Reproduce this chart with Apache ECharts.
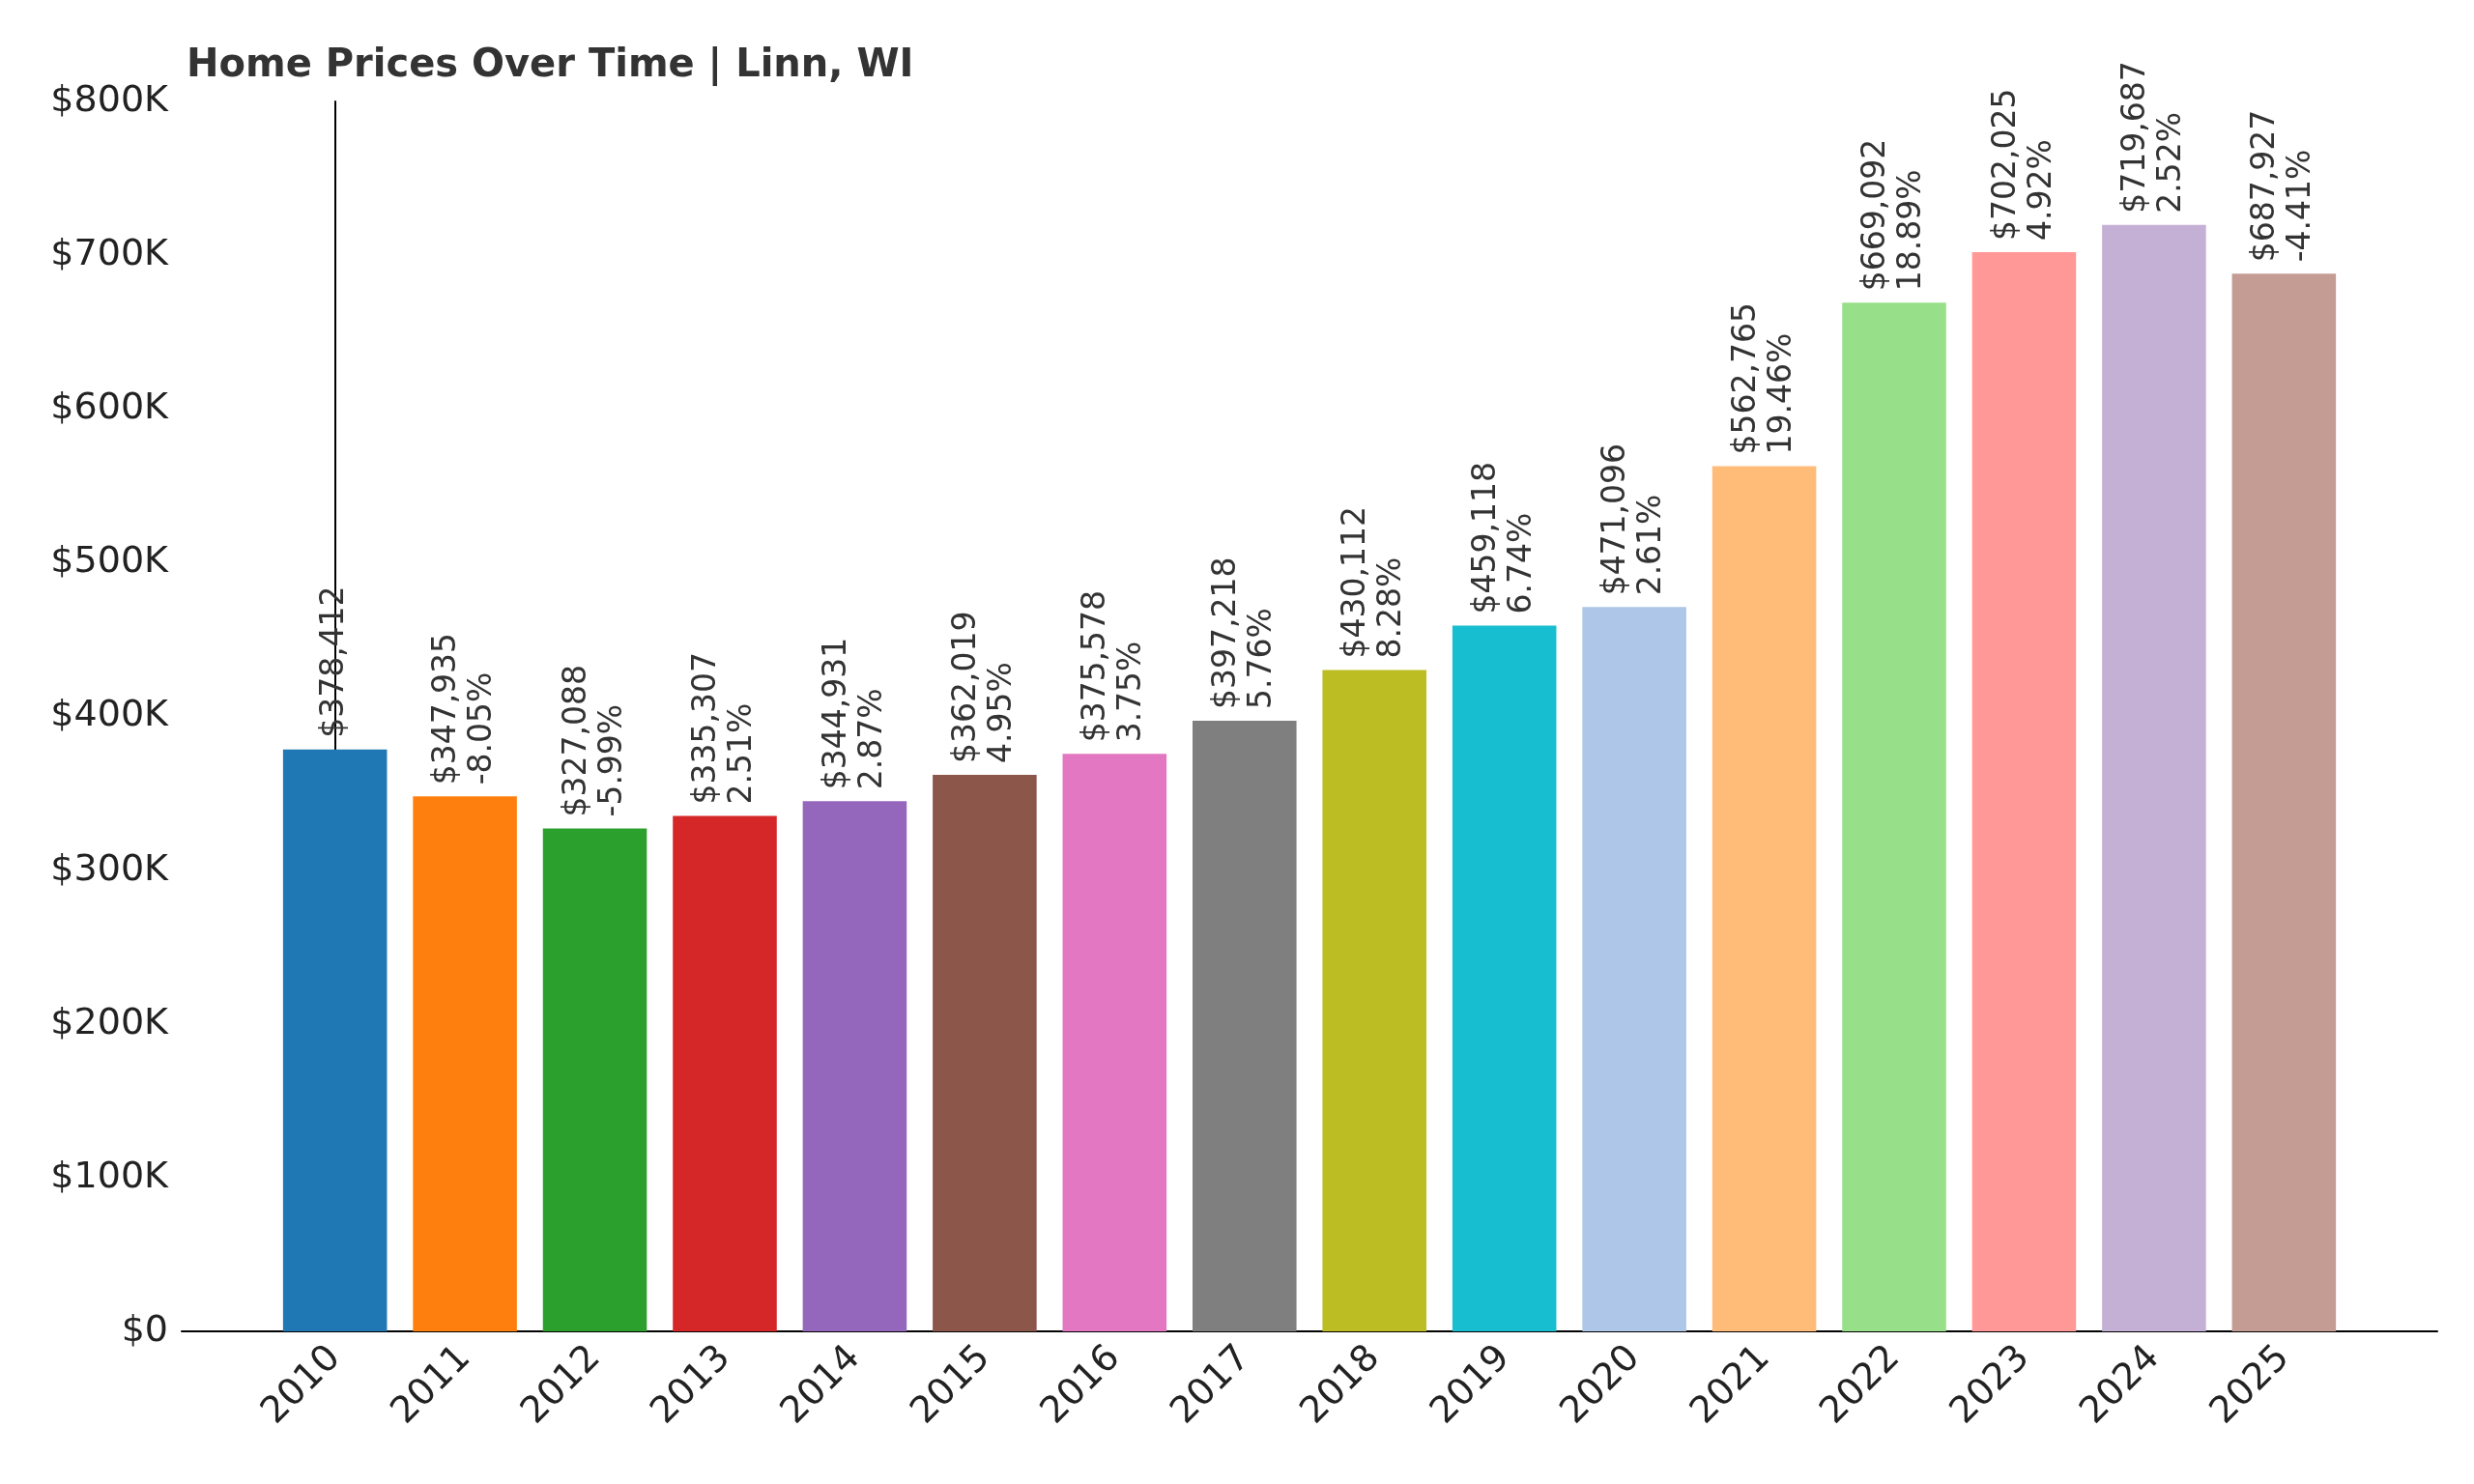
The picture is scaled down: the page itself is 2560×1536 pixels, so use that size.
<!DOCTYPE html>
<html style="height: 100%">
<head><meta charset="utf-8"></head>
<body style="height: 100%; margin: 0; background: #fff">
<div id="container" style="height: 100%"></div>
<script src="https://cdn.jsdelivr.net/npm/echarts@6/dist/echarts.min.js"></script>
<script>
var years = ['2010','2011','2012','2013','2014','2015','2016','2017','2018','2019','2020','2021','2022','2023','2024','2025'];
var prices = [378412,347935,327088,335307,344931,362019,375578,397218,430112,459118,471096,562765,669092,702025,719687,687927];
var changes = [null,'-8.05%','-5.99%','2.51%','2.87%','4.95%','3.75%','5.76%','8.28%','6.74%','2.61%','19.46%','18.89%','4.92%','2.52%','-4.41%'];
var colors = ['#1f77b4','#ff7f0e','#2ca02c','#d62728','#9467bd','#8c564b','#e377c2','#7f7f7f','#bcbd22','#17becf','#aec7e8','#ffbb78','#98df8a','#ff9896','#c5b0d5','#c49c94'];

var font = 'DejaVu Sans';
var dom = document.getElementById('container');
var myChart = echarts.init(dom);
// outer grid spans the axis lines, inner grid only carries the year labels
var gl = 188, gr = 38, pad = 1.18;
var unit = (2560 - gl - gr) / (years.length - 1 + 2 * pad);
var inner = (pad - 0.5) * unit;
var option = {
    backgroundColor: '#fff',
    animation: false,
    title: {
        text: 'Home Prices Over Time | Linn, WI',
        left: 188, top: 44,
        textStyle: { fontFamily: font, fontSize: 40, fontWeight: 'bold', color: '#333' }
    },
    grid: [
        { left: gl, right: gr, top: 105, bottom: 158 },
        { left: gl + inner, right: gr + inner, top: 105, bottom: 158 }
    ],
    xAxis: [{
        type: 'value', gridIndex: 0,
        min: -pad, max: years.length - 1 + pad,
        splitLine: { show: false },
        axisTick: { show: false },
        axisLabel: { show: false },
        axisLine: { lineStyle: { color: '#000', width: 2 } }
    }, {
        type: 'category', gridIndex: 1,
        data: years,
        axisLine: { show: false },
        axisTick: { show: false },
        axisLabel: { rotate: 45, fontFamily: font, fontSize: 38, color: '#222', margin: 22 }
    }],
    yAxis: [{
        type: 'value', gridIndex: 0,
        min: 0, max: 800000, interval: 100000,
        splitLine: { show: false },
        axisLine: { show: true, lineStyle: { color: '#000', width: 2 } },
        axisTick: { show: false },
        axisLabel: {
            fontFamily: font, fontSize: 38, color: '#222', margin: 14,
            formatter: function (v) { return v === 0 ? '$0' : '$' + (v / 1000) + 'K'; }
        }
    }, {
        type: 'value', gridIndex: 1, min: 0, max: 800000, show: false
    }],
    series: [{
        type: 'bar',
        xAxisIndex: 0, yAxisIndex: 0,
        barWidth: 0.8 * unit,
        data: prices.map(function (p, i) {
            return { value: [i, p], itemStyle: { color: colors[i] } };
        }),
        label: {
            show: true,
            position: 'top',
            rotate: 90,
            align: 'left',
            verticalAlign: 'middle',
            distance: 12,
            fontFamily: font,
            fontSize: 33,
            lineHeight: 37,
            color: '#333',
            formatter: function (p) {
                var s = '$' + p.value[1].toLocaleString('en-US');
                var c = changes[p.dataIndex];
                return c ? s + '\n' + c : s;
            }
        }
    }]
};
myChart.setOption(option);
</script>
</body>
</html>
